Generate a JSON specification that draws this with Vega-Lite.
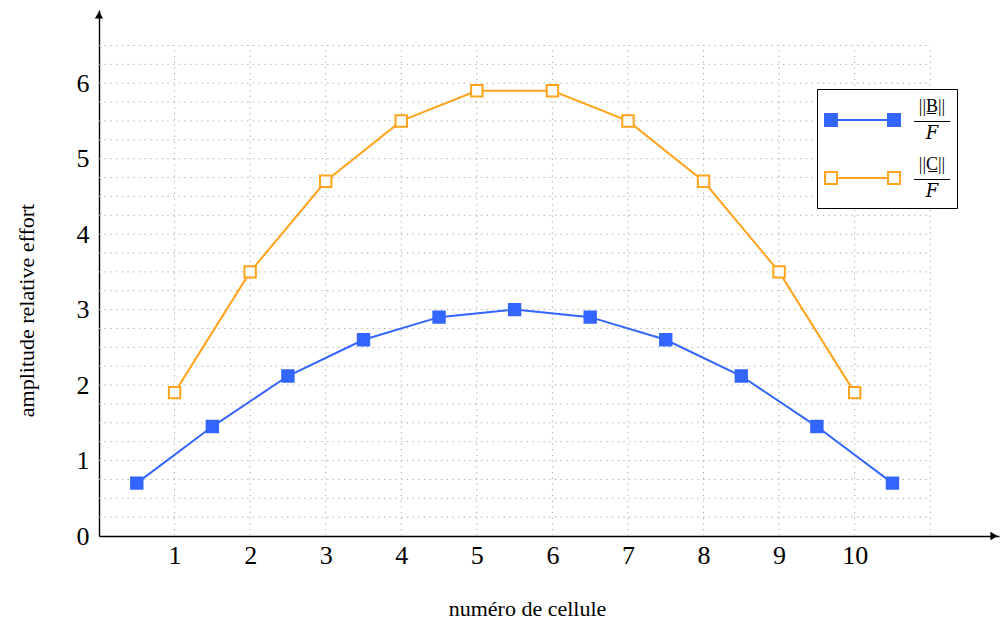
{
  "$schema": "https://vega.github.io/schema/vega-lite/v6.json",
  "width": 900,
  "height": 526,
  "autosize": {"type": "none"},
  "padding": {"left": 99, "top": 10, "right": 1, "bottom": 94},
  "background": "white",
  "config": {
    "view": {"stroke": null},
    "font": "Liberation Serif",
    "axis": {
      "grid": false, "ticks": false, "tickSize": 0,
      "domainColor": "black", "domainWidth": 1.4,
      "labelFont": "Liberation Serif", "labelFontSize": 26, "labelColor": "black",
      "titleFont": "Liberation Serif", "titleFontSize": 22, "titleFontWeight": "normal", "titleColor": "black",
      "format": "d"
    },
    "axisX": {
      "labelPadding": 6, "labelBaseline": "top",
      "titleX": 428, "titleY": 79, "titleBaseline": "alphabetic", "titleAlign": "center"
    },
    "axisY": {
      "labelPadding": 10, "labelBaseline": "middle",
      "titleX": -66, "titleY": 300, "titleBaseline": "alphabetic", "titleAlign": "center", "titleAngle": -90
    },
    "legend": {
      "orient": "none", "legendX": 718, "legendY": 79,
      "strokeColor": "black", "fillColor": "white", "padding": 7,
      "symbolSize": 2116, "symbolStrokeWidth": 2,
      "labelFont": "Liberation Serif, DejaVu Serif", "labelFontSize": 18, "labelColor": "black",
      "labelAlign": "center", "labelBaseline": "middle", "labelOffset": 60,
      "rowPadding": 11
    }
  },
  "datasets": {
    "series": [
      {"cellule": 0.5, "amplitude": 0.7, "serie": "B"},
      {"cellule": 1.5, "amplitude": 1.45, "serie": "B"},
      {"cellule": 2.5, "amplitude": 2.12, "serie": "B"},
      {"cellule": 3.5, "amplitude": 2.6, "serie": "B"},
      {"cellule": 4.5, "amplitude": 2.9, "serie": "B"},
      {"cellule": 5.5, "amplitude": 3.0, "serie": "B"},
      {"cellule": 6.5, "amplitude": 2.9, "serie": "B"},
      {"cellule": 7.5, "amplitude": 2.6, "serie": "B"},
      {"cellule": 8.5, "amplitude": 2.12, "serie": "B"},
      {"cellule": 9.5, "amplitude": 1.45, "serie": "B"},
      {"cellule": 10.5, "amplitude": 0.7, "serie": "B"},
      {"cellule": 1, "amplitude": 1.9, "serie": "C"},
      {"cellule": 2, "amplitude": 3.5, "serie": "C"},
      {"cellule": 3, "amplitude": 4.7, "serie": "C"},
      {"cellule": 4, "amplitude": 5.5, "serie": "C"},
      {"cellule": 5, "amplitude": 5.9, "serie": "C"},
      {"cellule": 6, "amplitude": 5.9, "serie": "C"},
      {"cellule": 7, "amplitude": 5.5, "serie": "C"},
      {"cellule": 8, "amplitude": 4.7, "serie": "C"},
      {"cellule": 9, "amplitude": 3.5, "serie": "C"},
      {"cellule": 10, "amplitude": 1.9, "serie": "C"}
    ],
    "hgrid": [
      {"g": 0.25}, {"g": 0.5}, {"g": 0.75}, {"g": 1}, {"g": 1.25}, {"g": 1.5}, {"g": 1.75}, {"g": 2},
      {"g": 2.25}, {"g": 2.5}, {"g": 2.75}, {"g": 3}, {"g": 3.25}, {"g": 3.5}, {"g": 3.75}, {"g": 4},
      {"g": 4.25}, {"g": 4.5}, {"g": 4.75}, {"g": 5}, {"g": 5.25}, {"g": 5.5}, {"g": 5.75}, {"g": 6},
      {"g": 6.25}, {"g": 6.5}
    ],
    "vgrid": [
      {"g": 1}, {"g": 2}, {"g": 3}, {"g": 4}, {"g": 5}, {"g": 6}, {"g": 7}, {"g": 8}, {"g": 9}, {"g": 10}, {"g": 11}
    ],
    "arrows": [
      {"ax": 11.91, "ay": 0, "dir": "right"},
      {"ax": 0, "ay": 6.97, "dir": "up"}
    ]
  },
  "layer": [
    {
      "data": {"name": "hgrid"},
      "mark": {"type": "rule", "stroke": "#a8a8a8", "strokeWidth": 1, "strokeDash": [1.3, 4.4]},
      "encoding": {
        "y": {"field": "g", "type": "quantitative",
          "scale": {"domain": [0, 6.97], "nice": false, "zero": false},
          "axis": {"values": [0, 1, 2, 3, 4, 5, 6], "title": "amplitude relative effort"}},
        "x": {"datum": 0,
          "scale": {"domain": [0, 11.91], "nice": false, "zero": false},
          "axis": {"values": [1, 2, 3, 4, 5, 6, 7, 8, 9, 10], "title": "numéro de cellule"}},
        "x2": {"datum": 11}
      }
    },
    {
      "data": {"name": "vgrid"},
      "mark": {"type": "rule", "stroke": "#a8a8a8", "strokeWidth": 1, "strokeDash": [1.3, 4.4]},
      "encoding": {
        "x": {"field": "g", "type": "quantitative"},
        "y": {"datum": 0},
        "y2": {"datum": 6.5}
      }
    },
    {
      "data": {"name": "series"},
      "mark": {"type": "line", "strokeWidth": 2},
      "encoding": {
        "x": {"field": "cellule", "type": "quantitative"},
        "y": {"field": "amplitude", "type": "quantitative"},
        "stroke": {"field": "serie", "type": "nominal", "scale": {"domain": ["B", "C"], "range": ["#3366ff", "#ffa31a"]},
          "legend": {"title": null, "symbolType": "M-1,-0.26H-0.48V0.26H-1Z M1.74,-0.26H2.26V0.26H1.74Z M-0.48,0H1.74",
            "labelExpr": "datum.value == 'B' ? ['||B̲||', '——', '𝐹'] : ['||C̲||', '——', '𝐹']",
            "encode": {"labels": {"update": {"lineHeight": {"value": 13.5}, "dy": {"value": -13}}}}}}
      }
    },
    {
      "data": {"name": "series"},
      "mark": {"type": "point", "shape": "square", "size": 130, "strokeWidth": 2, "opacity": 1, "filled": false},
      "encoding": {
        "x": {"field": "cellule", "type": "quantitative"},
        "y": {"field": "amplitude", "type": "quantitative"},
        "stroke": {"field": "serie", "type": "nominal",
          "legend": {"title": null, "symbolType": "M-1,-0.26H-0.48V0.26H-1Z M1.74,-0.26H2.26V0.26H1.74Z M-0.48,0H1.74",
            "labelExpr": "datum.value == 'B' ? ['||B̲||', '——', '𝐹'] : ['||C̲||', '——', '𝐹']",
            "encode": {"labels": {"update": {"lineHeight": {"value": 13.5}, "dy": {"value": -13}}}}}},
        "fill": {"field": "serie", "type": "nominal",
          "scale": {"domain": ["B", "C"], "range": ["#3366ff", "#ffffff"]},
          "legend": {"title": null, "symbolType": "M-1,-0.26H-0.48V0.26H-1Z M1.74,-0.26H2.26V0.26H1.74Z M-0.48,0H1.74",
            "labelExpr": "datum.value == 'B' ? ['||B̲||', '——', '𝐹'] : ['||C̲||', '——', '𝐹']",
            "encode": {"labels": {"update": {"lineHeight": {"value": 13.5}, "dy": {"value": -13}}}}}}
      }
    },
    {
      "data": {"name": "arrows"},
      "transform": [{"filter": "datum.dir == 'right'"}],
      "mark": {"type": "point", "shape": "triangle-right", "filled": true, "color": "black", "size": 70, "opacity": 1, "xOffset": -5},
      "encoding": {
        "x": {"field": "ax", "type": "quantitative"},
        "y": {"field": "ay", "type": "quantitative"}
      }
    },
    {
      "data": {"name": "arrows"},
      "transform": [{"filter": "datum.dir == 'up'"}],
      "mark": {"type": "point", "shape": "triangle-up", "filled": true, "color": "black", "size": 70, "opacity": 1, "yOffset": 5},
      "encoding": {
        "x": {"field": "ax", "type": "quantitative"},
        "y": {"field": "ay", "type": "quantitative"}
      }
    }
  ]
}
